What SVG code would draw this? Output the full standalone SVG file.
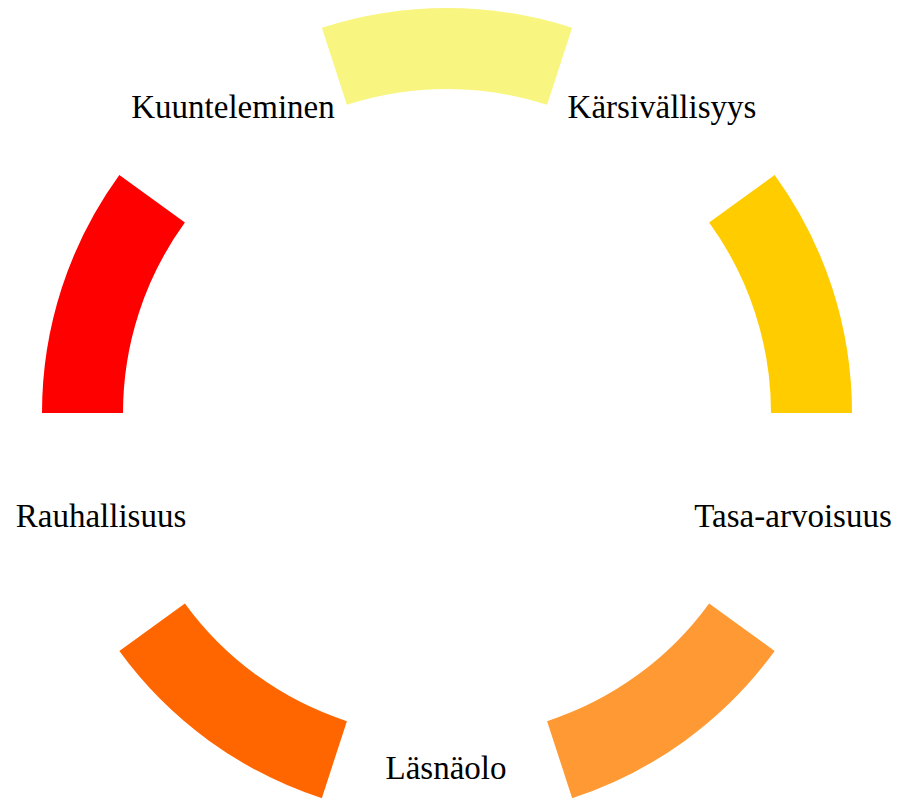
<svg xmlns="http://www.w3.org/2000/svg" width="897" height="798" viewBox="0 0 897 798">
<style>
text{font-family:"Liberation Serif","DejaVu Serif",serif;font-size:33px;fill:#000;text-anchor:middle}
</style>
<rect width="897" height="798" fill="#fff"/>
<g id="seg-kuunteleminen-karsivallisyys"><path d="M572.15,27.82 A405,405 0 0 0 321.85,27.82 L346.88,104.86 A324,324 0 0 1 547.12,104.86 Z" fill="#F8F680"/></g>
<g id="seg-karsivallisyys-tasa"><path d="M852,413 A405,405 0 0 0 774.65,174.95 L709.12,222.56 A324,324 0 0 1 771,413 Z" fill="#FFCC00"/></g>
<g id="seg-tasa-lasnaolo"><path d="M572.15,798.18 A405,405 0 0 0 774.65,651.05 L709.12,603.44 A324,324 0 0 1 547.12,721.14 Z" fill="#FF9933"/></g>
<g id="seg-lasnaolo-rauhallisuus"><path d="M119.35,651.05 A405,405 0 0 0 321.85,798.18 L346.88,721.14 A324,324 0 0 1 184.88,603.44 Z" fill="#FF6600"/></g>
<g id="seg-rauhallisuus-kuunteleminen"><path d="M119.35,174.95 A405,405 0 0 0 42,413 L123,413 A324,324 0 0 1 184.88,222.56 Z" fill="#FF0000"/></g>
<g id="connectors"></g>
<g id="label-kuunteleminen"><text x="233" y="118">Kuunteleminen</text></g>
<g id="label-karsivallisyys"><text x="662" y="118">Kärsivällisyys</text></g>
<g id="label-tasa-arvoisuus"><text x="793" y="527">Tasa-arvoisuus</text></g>
<g id="label-lasnaolo"><text x="446" y="779">Läsnäolo</text></g>
<g id="label-rauhallisuus"><text x="101" y="527">Rauhallisuus</text></g>
</svg>
